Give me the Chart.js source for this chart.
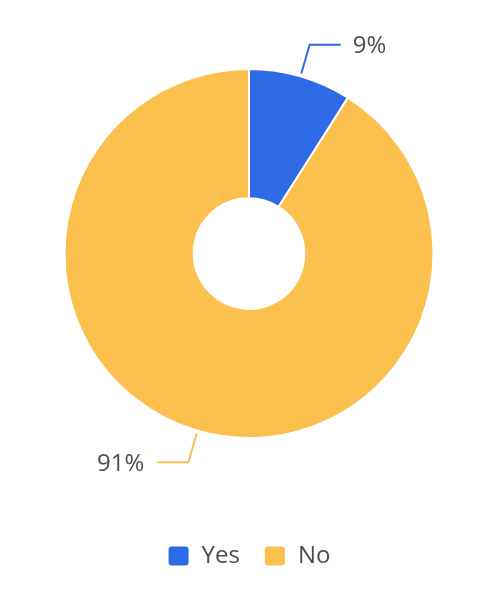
<!DOCTYPE html>
<html>
<head>
<meta charset="utf-8">
<script src="https://cdn.jsdelivr.net/npm/chart.js@4"></script>
<style>
  html, body { margin: 0; padding: 0; background: #fff; }
  #wrap { width: 500px; height: 596px; }
</style>
</head>
<body>
<div id="wrap"><canvas id="pie"></canvas></div>
<script>
const categories = ['Yes', 'No'];
const values = [9, 91];
const percentLabels = ['9%', '91%'];
const colors = ['#2f6be4', '#fbc04d'];

// leader lines with percent labels
const leaderLines = {
  id: 'leaderLines',
  afterDatasetsDraw(chart) {
    const ctx = chart.ctx;
    const meta = chart.getDatasetMeta(0);
    meta.data.forEach((arc, i) => {
      const mid = (arc.startAngle + arc.endAngle) / 2;
      const r = arc.outerRadius;
      const x0 = arc.x + Math.cos(mid) * (r + 3);
      const y0 = arc.y + Math.sin(mid) * (r + 3);
      const x1 = arc.x + Math.cos(mid) * (r + 33);
      const y1 = arc.y + Math.sin(mid) * (r + 33);
      const right = Math.cos(mid) >= 0;
      const x2 = x1 + (right ? 31 : -31);
      ctx.save();
      ctx.strokeStyle = colors[i];
      ctx.lineWidth = 2;
      ctx.beginPath();
      ctx.moveTo(x0, y0);
      ctx.lineTo(x1, y1);
      ctx.lineTo(x2, y1);
      ctx.stroke();
      ctx.fillStyle = '#4d4d4d';
      ctx.font = '24px "Open Sans", sans-serif';
      ctx.textBaseline = 'middle';
      ctx.textAlign = right ? 'left' : 'right';
      ctx.fillText(percentLabels[i], x2 + (right ? 12 : -13), y1 + 2);
      ctx.restore();
    });
  }
};

new Chart(document.getElementById('pie'), {
  type: 'doughnut',
  data: {
    labels: categories,
    datasets: [{
      data: values,
      backgroundColor: colors,
      borderColor: '#fff',
      borderWidth: 2,
      hoverOffset: 0
    }]
  },
  options: {
    responsive: true,
    maintainAspectRatio: false,
    animation: false,
    cutout: '30%',
    layout: { padding: { top: 68, left: 62, right: 64, bottom: 18 } },
    plugins: {
      tooltip: { enabled: false },
      legend: {
        position: 'bottom',
        // empty title only used as spacer between doughnut and legend
        title: {
          display: true,
          text: ' ',
          font: { size: 10, lineHeight: 1 },
          padding: { top: 71, bottom: 0 }
        },
        labels: {
          boxWidth: 22,
          boxHeight: 21,
          useBorderRadius: true,
          borderRadius: 4,
          padding: 24,
          color: '#4d4d4d',
          font: { family: '"Open Sans", sans-serif', size: 24 }
        }
      }
    }
  },
  plugins: [leaderLines]
});
</script>
</body>
</html>
